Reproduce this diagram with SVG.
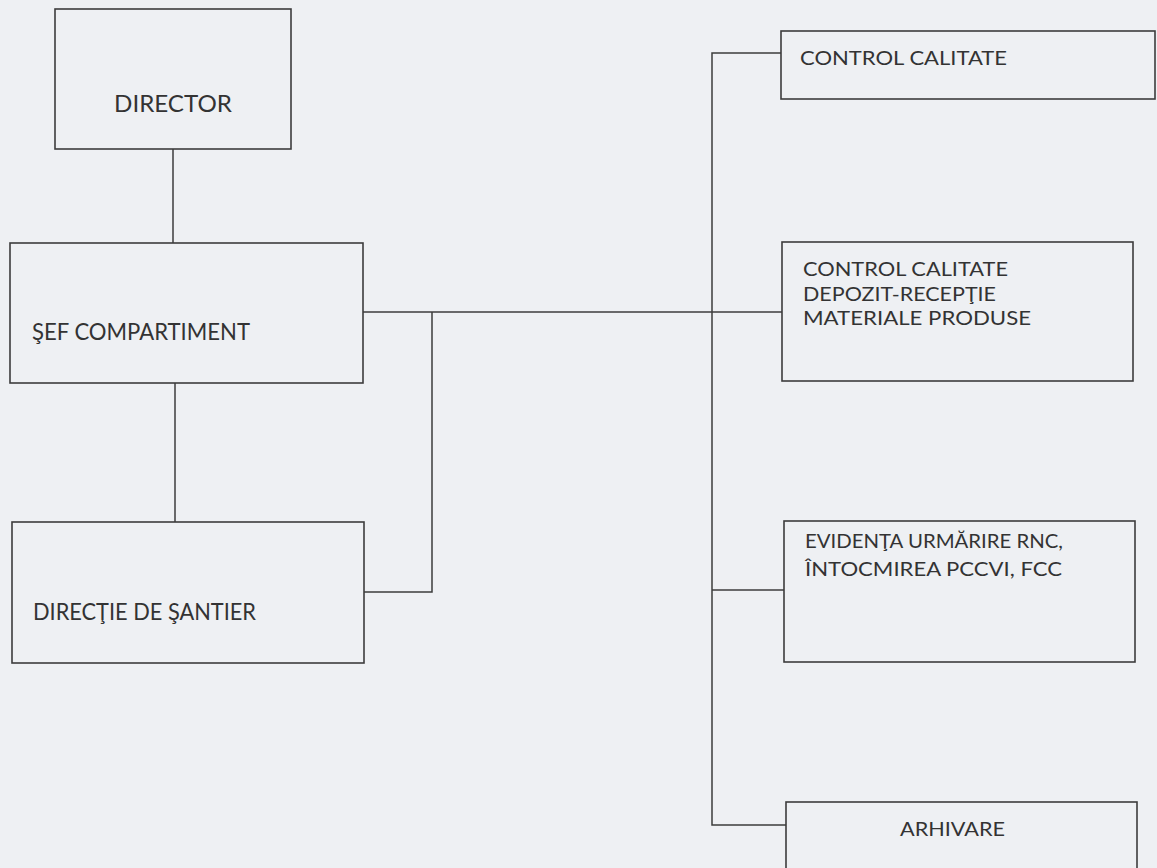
<svg xmlns="http://www.w3.org/2000/svg" width="1157" height="868" viewBox="0 0 1157 868">
<style>
.box{fill:none;stroke:#3c3c3c;stroke-width:1.6}
.ln{fill:none;stroke:#3c3c3c;stroke-width:1.5}
.t{font-family:Lato,"Open Sans","Liberation Sans",sans-serif;fill:#333;}
.l{font-size:23px}
.r{font-size:19.5px}
</style>
<rect x="0" y="0" width="1157" height="868" fill="#eef0f3"/>
<g id="connectors">
<path class="ln" d="M173,149 V243"/>
<path class="ln" d="M175,383 V522"/>
<path class="ln" d="M363,312 H782"/>
<path class="ln" d="M432,312 V592 H364"/>
<path class="ln" d="M781,53 H712 V825 H786"/>
<path class="ln" d="M712,590 H784"/>
</g>
<g id="director">
<rect class="box" x="55" y="9" width="236" height="140"/>
<text class="t l" x="114" y="112" textLength="118" lengthAdjust="spacingAndGlyphs">DIRECTOR</text>
</g>
<g id="sef">
<rect class="box" x="10" y="243" width="353" height="140"/>
<text class="t l" x="32" y="340" textLength="218" lengthAdjust="spacingAndGlyphs">ŞEF COMPARTIMENT</text>
</g>
<g id="directie">
<rect class="box" x="12" y="522" width="352" height="141"/>
<text class="t l" x="33" y="620" textLength="223" lengthAdjust="spacingAndGlyphs">DIRECŢIE DE ŞANTIER</text>
</g>
<g id="control">
<rect class="box" x="781" y="31" width="374" height="68"/>
<text class="t r" x="800" y="65" textLength="207" lengthAdjust="spacingAndGlyphs">CONTROL CALITATE</text>
</g>
<g id="depozit">
<rect class="box" x="782" y="242" width="351" height="139"/>
<text class="t r" x="803" y="276" textLength="205" lengthAdjust="spacingAndGlyphs">CONTROL CALITATE</text>
<text class="t r" x="803" y="301" textLength="193" lengthAdjust="spacingAndGlyphs">DEPOZIT-RECEPŢIE</text>
<text class="t r" x="803" y="325" textLength="228" lengthAdjust="spacingAndGlyphs">MATERIALE PRODUSE</text>
</g>
<g id="evidenta">
<rect class="box" x="784" y="521" width="351" height="141"/>
<text class="t r" x="805" y="548" textLength="258" lengthAdjust="spacingAndGlyphs">EVIDENŢA URMĂRIRE RNC,</text>
<text class="t r" x="805" y="576" textLength="257" lengthAdjust="spacingAndGlyphs">ÎNTOCMIREA PCCVI, FCC</text>
</g>
<g id="arhivare">
<rect class="box" x="786" y="802" width="351" height="80"/>
<text class="t r" x="900" y="836" textLength="105" lengthAdjust="spacingAndGlyphs">ARHIVARE</text>
</g>
</svg>
